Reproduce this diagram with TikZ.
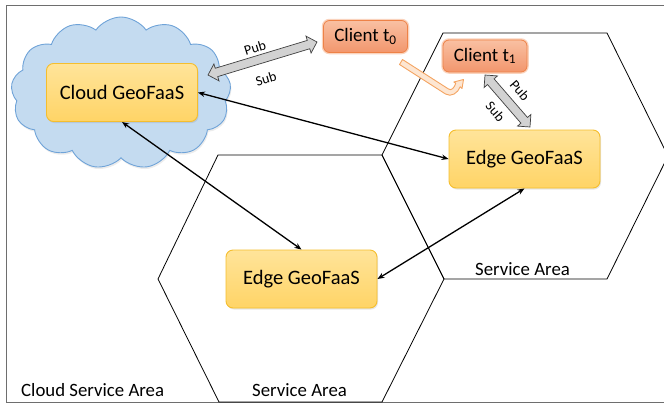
\documentclass[tikz,border=0pt]{standalone}
\usepackage{fontspec}
\setmainfont{Carlito}
\usetikzlibrary{shapes.symbols,shapes.arrows,calc,shadows,arrows.meta}
\definecolor{framegray}{HTML}{6E6E6E}
\definecolor{cloudfill}{HTML}{C4DBF0}
\definecolor{clouddraw}{HTML}{6FA3D8}
\definecolor{boxtop}{HTML}{FFE49A}
\definecolor{boxbot}{HTML}{FFD466}
\definecolor{boxdraw}{HTML}{F5BE2E}
\definecolor{cltop}{HTML}{F9C0A2}
\definecolor{clbot}{HTML}{F2966D}
\definecolor{cldraw}{HTML}{EE8247}
\definecolor{clglow}{HTML}{FAD3BD}
\definecolor{arrfill}{HTML}{D2D2D2}
\definecolor{arrdraw}{HTML}{404040}
\definecolor{movefill}{HTML}{FDE6D2}
\definecolor{movedraw}{HTML}{F4A462}
\begin{document}
\begin{tikzpicture}[x=1pt,y=-1pt,
  geobox/.style={rectangle, rounded corners=7pt, draw=boxdraw, line width=0.9pt,
    top color=boxtop, bottom color=boxbot, minimum width=151pt, minimum height=58pt,
    font=\fontsize{20.5}{24}\selectfont,
    drop shadow={opacity=0.2,shadow xshift=1pt,shadow yshift=-1.5pt}},
  clientbox/.style={rectangle, rounded corners=6pt, draw=cldraw, line width=0.8pt,
    top color=cltop, bottom color=clbot, minimum width=84pt, minimum height=32pt,
    font=\fontsize{19}{22}\selectfont, preaction={draw=clglow, line width=3.5pt}},
  areatext/.style={font=\fontsize{18.8}{22}\selectfont, inner sep=0pt, anchor=west},
  pslabel/.style={font=\fontsize{14}{16}\selectfont, inner sep=0pt},
  blockarrow/.style={double arrow, draw=arrdraw, fill=arrfill, line width=0.7pt,
    inner xsep=0pt, inner ysep=4pt, double arrow head extend=4.5pt},
  link/.style={{Stealth[length=7pt,width=5.5pt]}-{Stealth[length=7pt,width=5.5pt]}, line width=1.3pt},
  hexline/.style={line width=0.8pt, black, line join=miter},
  movearrow/.style={draw=movedraw, fill=movefill, line width=0.9pt, line join=round}
]
\useasboundingbox (0,0) rectangle (664,405);
\begin{scope}
\clip (0,0) rectangle (664,405);
% frame
\draw[framegray, line width=1pt] (670,5) -- (6,5) -- (6,402) -- (670,402);
% hexagons
\draw[hexline] (218,155) -- (382,155) -- (444,279) -- (382,402) -- (219,402) -- (158,279) -- cycle;
\draw[hexline] (443,33) -- (607,33) -- (668,156) -- (607,279) -- (444,279) -- (382,155) -- cycle;
\end{scope}
% cloud
\node[cloud, cloud puffs=13, cloud puff arc=110, cloud ignores aspect,
  minimum width=220pt, minimum height=152pt, fill=cloudfill, draw=clouddraw,
  line width=0.9pt, drop shadow={opacity=0.15,shadow xshift=1pt,shadow yshift=-2pt}] (cloud) at (121,93) {};
% labels of areas
\node[areatext] (csa) at (21,390) {Cloud Service Area};
\node[areatext] (sa1) at (252,390) {Service Area};
\node[areatext] (sa2) at (475,269) {Service Area};
% boxes
\node[geobox] (cloudbox) at (122,92.5) {Cloud GeoFaaS};
\node[geobox] (edge1) at (524.5,159) {Edge GeoFaaS};
\node[geobox] (edge2) at (301.5,279) {Edge GeoFaaS};
\node[clientbox] (client0) at (365.5,36.5) {Client t\textsubscript{0}};
\node[clientbox] (client1) at (485,56) {Client t\textsubscript{1}};
% black links
\draw[link] (cloudbox.east) -- (edge1.west);
\draw[link] (cloudbox.south) -- (edge2.north);
\draw[link] (edge1.south) -- (edge2.east);
% pub/sub arrows
\coordinate (ps1a) at (208,75);
\coordinate (ps1b) at (317,42);
\coordinate (ps2a) at (485,75);
\coordinate (ps2b) at (530,127);
\path let \p1=(ps1a), \p2=(ps1b), \n1={atan2(\y2-\y1,\x2-\x1)}, \n2={veclen(\x2-\x1,\y2-\y1)} in
  node[blockarrow, rotate=\n1, minimum height=\n2] (pubsub1) at ($(ps1a)!0.5!(ps1b)$) {};
\path let \p1=(ps2a), \p2=(ps2b), \n1={atan2(\y2-\y1,\x2-\x1)}, \n2={veclen(\x2-\x1,\y2-\y1)} in
  node[blockarrow, rotate=\n1, minimum height=\n2] (pubsub2) at ($(ps2a)!0.5!(ps2b)$) {};
\node[pslabel, rotate=17] (pub1) at (255,48) {Pub};
\node[pslabel, rotate=17] (sub1) at (266,79) {Sub};
\node[pslabel, rotate=-49] (pub2) at (520,90.5) {Pub};
\node[pslabel, rotate=-49] (sub2) at (495.5,111.5) {Sub};
% movement arrow
\draw[movearrow] (402.5,59.5) -- (448.5,89) .. controls (451.5,91) and (454,88) .. (455.8,83.3)
  -- (453.8,82) -- (463.5,79.5) -- (462,88.5) -- (460.2,86.8)
  .. controls (458,93) and (451,97.5) .. (445.5,94) -- (399.5,64.5) -- cycle;
\end{tikzpicture}
\end{document}
